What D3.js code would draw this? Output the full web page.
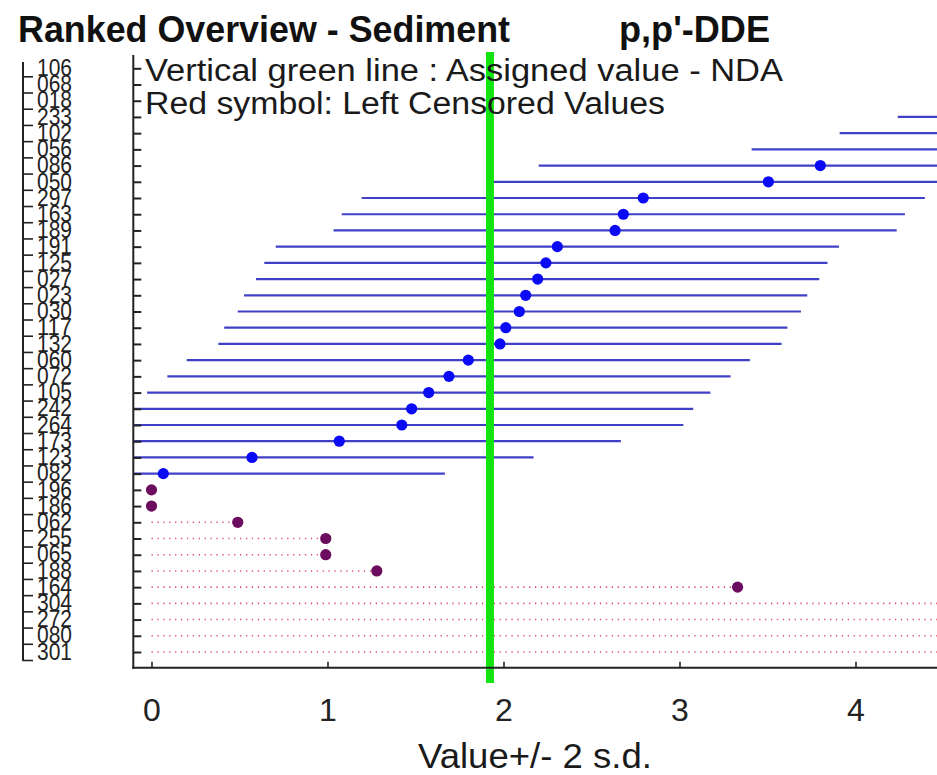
<!DOCTYPE html>
<html>
<head>
<meta charset="utf-8">
<script src="https://cdn.jsdelivr.net/npm/d3@7"></script>
<style>
  html, body { margin: 0; padding: 0; background: #fff; }
  svg { display: block; font-family: "Liberation Sans", Arial, sans-serif; }
</style>
</head>
<body>
<svg id="chart" width="937" height="775"></svg>
<script>
// ---- data ----
const labs = ["106","068","018","233","102","056","086","050","297","163","189","191","125","027","023","030","117","132","060","072","105","242","264","173","123","082","196","186","062","255","065","188","164","304","272","080","301"];
const values = [7.0, 6.6, 6.3, 5.84, 5.51, 5.01, 3.80, 3.505, 2.794, 2.681, 2.634, 2.306, 2.241, 2.194, 2.126, 2.090, 2.013, 1.980, 1.80, 1.69, 1.575, 1.478, 1.422, 1.067, 0.571, 0.067, 0, 0, 0.49, 0.99, 0.99, 1.28, 3.33, 5.2, 5.6, 6.0, 6.5];
const censored = [false,false,false,false,false,false,false,false,false,false,false,false,false,false,false,false,false,false,false,false,false,false,false,false,false,false,true,true,true,true,true,true,true,true,true,true,true];
const twoSD = 1.6;
const assignedValue = 1.923;
const xTicks = [0, 1, 2, 3, 4];
const titleText = "Ranked Overview - Sediment";
const analyteText = "p,p'-DDE";
const note1 = "Vertical green line : Assigned value -  NDA";
const note2 = "Red symbol: Left Censored Values";
const xLabel = "Value+/- 2 s.d.";

const rows = labs.map((l, i) => ({ lab: l, v: values[i], cens: censored[i] }));

// ---- layout ----
const svg = d3.select("#chart");
const W = 937, H = 775;
const plotLeft = 133.3, plotTop = 55, plotBottom = 667.7;
const x = d3.scaleLinear().domain([0, 4]).range([151.5, 855.5]);
const y = d3.scalePoint().domain(labs).range([68.3, 652]);
const ink = "#222";

svg.append("defs").append("clipPath").attr("id", "clip")
  .append("rect").attr("x", plotLeft + 1).attr("y", plotTop).attr("width", W - plotLeft).attr("height", plotBottom - plotTop);

const plot = svg.append("g").attr("clip-path", "url(#clip)");

// measured intervals
plot.selectAll("line.ci").data(rows.filter(d => !d.cens)).join("line")
  .attr("class", "ci")
  .attr("x1", d => x(d.v - twoSD)).attr("x2", d => x(d.v + twoSD))
  .attr("y1", d => y(d.lab)).attr("y2", d => y(d.lab))
  .attr("stroke", "#4040c6").attr("stroke-width", 2.2);

// censored dotted lines
plot.selectAll("line.cens").data(rows.filter(d => d.cens && d.v > 0)).join("line")
  .attr("class", "cens")
  .attr("x1", x(0)).attr("x2", d => x(d.v))
  .attr("y1", d => y(d.lab)).attr("y2", d => y(d.lab))
  .attr("stroke", "#e0506e").attr("stroke-width", 1.6)
  .attr("stroke-dasharray", "1.3,4.6");

// dots
plot.selectAll("circle").data(rows).join("circle")
  .attr("cx", d => x(d.v)).attr("cy", d => y(d.lab)).attr("r", 5.6)
  .attr("fill", d => d.cens ? "#6c0c5e" : "#0a0af5");

// green assigned line
svg.append("line")
  .attr("x1", x(assignedValue)).attr("x2", x(assignedValue))
  .attr("y1", 52).attr("y2", 683)
  .attr("stroke", "#12e412").attr("stroke-width", 8);

// plot left axis
const yAx = svg.append("g").attr("transform", `translate(${plotLeft},0)`)
  .call(d3.axisRight(y).tickSize(8).tickFormat(""));
yAx.select(".domain").remove();
yAx.selectAll(".tick line").attr("stroke", ink).attr("stroke-width", 2);
svg.append("line").attr("x1", plotLeft).attr("x2", plotLeft).attr("y1", plotTop).attr("y2", plotBottom + 1)
  .attr("stroke", ink).attr("stroke-width", 2);

// x axis
const xAx = svg.append("g").attr("transform", `translate(0,${plotBottom})`)
  .call(d3.axisBottom(x).tickValues(xTicks).tickSize(-6).tickFormat(d3.format("d")));
xAx.select(".domain").remove();
xAx.selectAll(".tick line").attr("stroke", ink).attr("stroke-width", 1.6);
xAx.selectAll(".tick text").attr("y", 53).attr("dy", 0)
  .attr("font-size", 32).attr("fill", ink).attr("font-family", "Liberation Sans, Arial, sans-serif");
svg.append("line").attr("x1", plotLeft - 1).attr("x2", W).attr("y1", plotBottom).attr("y2", plotBottom)
  .attr("stroke", ink).attr("stroke-width", 2);

// label column axis
const lAx = svg.append("g").attr("transform", "translate(23,0)")
  .call(d3.axisRight(y).tickSize(10).tickPadding(4));
lAx.select(".domain").remove();
lAx.selectAll(".tick line").attr("y1", 8).attr("y2", 8).attr("stroke", ink).attr("stroke-width", 1.6);
lAx.selectAll(".tick text").attr("font-size", 24).attr("fill", ink).attr("dy", "0.3em")
  .attr("textLength", 35).attr("lengthAdjust", "spacingAndGlyphs")
  .attr("font-family", "Liberation Sans, Arial, sans-serif");
svg.append("line").attr("x1", 23).attr("x2", 23).attr("y1", 62).attr("y2", 661)
  .attr("stroke", ink).attr("stroke-width", 2);

// texts
svg.append("text").attr("x", 18).attr("y", 42).attr("font-size", 36).attr("font-weight", "bold")
  .attr("fill", "#111").attr("textLength", 492).attr("lengthAdjust", "spacingAndGlyphs").text(titleText);
svg.append("text").attr("x", 619).attr("y", 42).attr("font-size", 36).attr("font-weight", "bold")
  .attr("fill", "#111").attr("textLength", 151).attr("lengthAdjust", "spacingAndGlyphs").text(analyteText);
svg.append("text").attr("x", 145).attr("y", 80.5).attr("font-size", 31)
  .attr("fill", "#1a1a1a").attr("textLength", 638).attr("lengthAdjust", "spacingAndGlyphs").text(note1);
svg.append("text").attr("x", 145).attr("y", 113.5).attr("font-size", 31)
  .attr("fill", "#1a1a1a").attr("textLength", 520).attr("lengthAdjust", "spacingAndGlyphs").text(note2);
svg.append("text").attr("x", 418).attr("y", 768).attr("font-size", 35)
  .attr("fill", "#1a1a1a").attr("textLength", 234).attr("lengthAdjust", "spacingAndGlyphs").text(xLabel);
</script>
</body>
</html>
